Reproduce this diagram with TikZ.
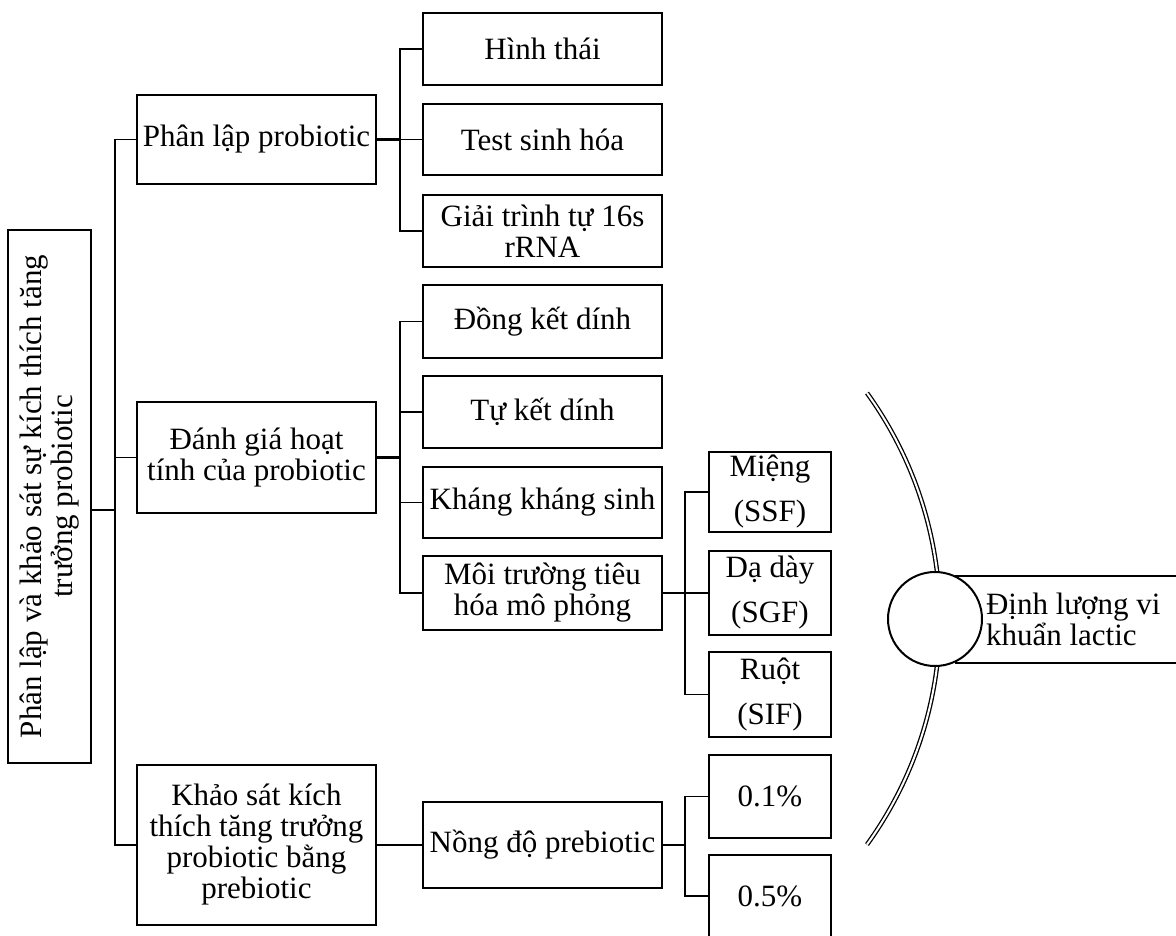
\documentclass[tikz,border=0pt]{standalone}
\usepackage{fontspec}
\setmainfont{Liberation Serif}
\newcommand\mainfs{\fontsize{31}{31}\selectfont}
\newcommand\widefs{\fontsize{31}{45}\selectfont}
\begin{document}
\begin{tikzpicture}[x=1pt,y=-1pt,
  box/.style={draw, line width=2.2pt, inner sep=2pt, align=center, font=\mainfs},
  lone/.style={box, minimum width=239pt},
  ltwo/.style={box, minimum width=239pt},
  lthree/.style={box, minimum width=122pt, font=\widefs},
  conn/.style={line width=1.8pt},
  stem/.style={line width=2.6pt}]
\useasboundingbox (0,0) rectangle (1176,935);

% root
\node[box, rotate=90, minimum width=533pt, minimum height=83pt] (root) at (49.5,496.5)
  {Phân lập và khảo sát sự kích thích tăng\\trưởng probiotic};

% level 1
\node[lone, minimum height=89pt] (L1a) at (256.5,139.5) {Phân lập probiotic};
\node[lone, minimum height=111pt] (L1b) at (256.5,457.5) {Đánh giá hoạt\\tính của probiotic};
\node[lone, minimum height=160pt] (L1c) at (256.5,845) {Khảo sát kích\\thích tăng trưởng\\probiotic bằng\\prebiotic};

% level 2
\node[ltwo, minimum height=72pt] (H1) at (542.5,49) {Hình thái};
\node[ltwo, minimum height=71pt] (H2) at (542.5,139.5) {Test sinh hóa};
\node[ltwo, minimum height=72pt] (H3) at (542.5,231) {Giải trình tự 16s\\rRNA};
\node[ltwo, minimum height=73pt] (D1) at (542.5,321.5) {Đồng kết dính};
\node[ltwo, minimum height=72pt] (D2) at (542.5,412) {Tự kết dính};
\node[ltwo, minimum height=71pt] (D3) at (542.5,502.5) {Kháng kháng sinh};
\node[ltwo, minimum height=74pt] (D4) at (542.5,593) {Môi trường tiêu\\hóa mô phỏng};
\node[ltwo, minimum height=86pt] (N) at (542.5,845) {Nồng độ prebiotic};

% level 3
\node[lthree, minimum height=80pt] (M1) at (770,492) {Miệng\\(SSF)};
\node[lthree, minimum height=84pt] (M2) at (770,593) {Dạ dày\\(SGF)};
\node[lthree, minimum height=85pt] (M3) at (770,694.5) {Ruột\\(SIF)};
\node[lthree, minimum height=83pt] (P1) at (770,796.5) {0.1\%};
\node[lthree, minimum height=82pt] (P2) at (770,896) {0.5\%};

% connectors root / level 1
\coordinate (t0) at (115,510);
\draw[conn] (L1a.west) -| (t0) |- (L1c.west);
\draw[conn] (L1b.west) -- (L1b.west -| t0);
\draw[stem] (root.south |- t0) -- (t0);

% Phan lap branch
\coordinate (v1) at (400,139.5);
\draw[stem] (L1a.east) -- (v1);
\draw[conn] (H1.west) -| (v1) |- (H3.west);
\draw[conn] (H2.west) -- (v1);

% Danh gia branch
\coordinate (v2) at (400,457.5);
\draw[stem] (L1b.east) -- (v2);
\draw[conn] (D1.west) -| (v2) |- (D4.west);
\draw[conn] (D2.west) -- (D2.west -| v2);
\draw[conn] (D3.west) -- (D3.west -| v2);

% Moi truong branch
\coordinate (v3) at (685,593);
\draw[stem] (D4.east) -- (v3);
\draw[conn] (M1.west) -| (v3) |- (M3.west);
\draw[conn] (M2.west) -- (v3);

% Khao sat branch
\draw[conn] (L1c.east) -- (N.west);
\coordinate (v4) at (685,845);
\draw[stem] (N.east) -- (v4);
\draw[conn] (P1.west) -| (v4) |- (P2.west);

% right part
\draw[double, double distance=2pt, line width=1.3pt] (867,393) arc[start angle=35.8, end angle=-35.8, radius=386pt];
\node[draw, line width=2pt, anchor=west, minimum height=87pt, inner xsep=30pt, inner ysep=2pt, align=left, font=\mainfs] (quant) at (955,619.5) {Định lượng vi\\khuẩn lactic};
\node[draw, circle, line width=2pt, fill=white, minimum size=94pt, inner sep=0pt] (circ) at (935,619) {};
\end{tikzpicture}
\end{document}
